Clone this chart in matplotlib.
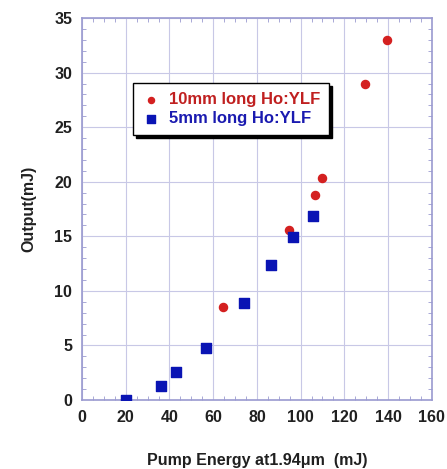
import matplotlib as mpl
mpl.use('Agg')
import matplotlib.pyplot as plt
from matplotlib.ticker import MultipleLocator

# 10mm long crystal (red circles)
pump_10mm = [64.5, 94.5, 106.5, 110, 129.5, 139.5]
out_10mm = [8.5, 15.6, 18.8, 20.3, 29.0, 33.0]

# 5mm long crystal (blue squares)
pump_5mm = [20, 36, 43, 56.7, 74, 86.5, 96.5, 105.5]
out_5mm = [0.0, 1.3, 2.6, 4.8, 8.9, 12.4, 14.9, 16.9]

xticks = [0, 20, 40, 60, 80, 100, 120, 140, 160]
yticks = [0, 5, 10, 15, 20, 25, 30, 35]

plt.rcParams['font.family'] = ['Liberation Sans', 'DejaVu Sans']

fig = plt.figure(figsize=(4.47, 4.69), dpi=100)
ax = fig.add_axes([0.1834, 0.147, 0.7826, 0.8146])

frame_col = '#9a9ad0'
grid_col = '#c8c8e6'

ax.scatter(pump_10mm, out_10mm, marker='o', s=34, color='#d42020', zorder=3,
           label='10mm long Ho:YLF')
ax.scatter(pump_5mm, out_5mm, marker='s', s=52, color='#0a14b4', zorder=3,
           label='5mm long Ho:YLF')

ax.set_xlim(0, 160)
ax.set_ylim(0, 35)
ax.set_xticks(xticks)
ax.set_yticks(yticks)
ax.xaxis.set_minor_locator(MultipleLocator(5))
ax.yaxis.set_minor_locator(MultipleLocator(1))
ax.grid(True, which='major', color=grid_col, lw=0.8)
ax.set_axisbelow(True)

for sp in ax.spines.values():
    sp.set_color(frame_col)
    sp.set_linewidth(1.2)

ax.tick_params(which='both', direction='in', colors=frame_col, top=True, right=True)
ax.tick_params(which='major', length=0, pad=7)
ax.tick_params(which='minor', length=3)
for lab in ax.get_xticklabels() + ax.get_yticklabels():
    lab.set_color('#202020')
    lab.set_fontweight('bold')
    lab.set_fontsize(11.5)

ax.set_xlabel('Pump Energy at1.94\u03bcm  (mJ)', fontsize=11.5, fontweight='bold',
              color='#202020', labelpad=20)
ax.set_ylabel('Output(mJ)', fontsize=11.5, fontweight='bold', color='#202020', labelpad=13)

leg = ax.legend(loc='upper left', bbox_to_anchor=(0.146, 0.83), borderaxespad=0,
                frameon=True, fancybox=False, shadow={'color': 'black', 'alpha': 1.0},
                edgecolor='black', borderpad=0.55, handletextpad=0.6, markerscale=0.75,
                handlelength=1.0, labelspacing=0.25, prop={'weight': 'bold', 'size': 12})
leg.get_frame().set_linewidth(1.0)
leg.get_texts()[0].set_color('#c02020')
leg.get_texts()[1].set_color('#1a1ab0')

fig.savefig('out.png', dpi=100)
